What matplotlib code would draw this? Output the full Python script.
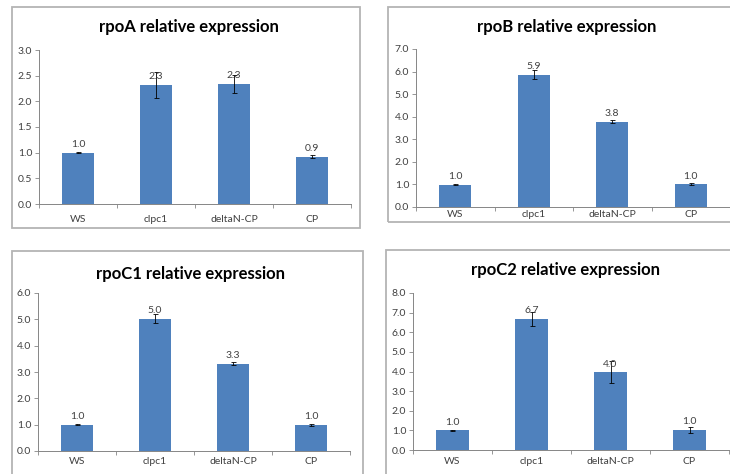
import matplotlib.pyplot as plt
from matplotlib.patches import Rectangle
from matplotlib.ticker import FormatStrFormatter, FixedLocator
import numpy as np

plt.rcParams['font.family'] = ['Lato', 'DejaVu Sans']

# tamanho da imagem em pixels (dpi 100)
W, H = 730, 474

categorias = ['WS', 'clpc1', 'deltaN-CP', 'CP']

rpoA = [1.00, 2.32, 2.34, 0.92]
rpoA_err = [0.01, 0.26, 0.17, 0.03]

rpoB = [0.98, 5.87, 3.78, 1.02]
rpoB_err = [0.02, 0.18, 0.08, 0.06]

rpoC1 = [0.99, 5.02, 3.32, 0.99]
rpoC1_err = [0.02, 0.17, 0.07, 0.03]

rpoC2 = [1.00, 6.68, 3.96, 1.03]
rpoC2_err = [0.01, 0.35, 0.55, 0.15]

AZUL = '#4F81BD'
CINZA = '#868686'
TEXTO = '#404040'


# converte um retangulo em pixels (origem no topo) para fração da figura
def px(x0, y0, x1, y1):
    return [x0 / W, 1 - y1 / H, (x1 - x0) / W, (y1 - y0) / H]


def desenhaPainel(fig, caixa, eixo, titulo, ytitulo, valores, erros, ymax, passo, padx):
    # moldura cinza em volta do gráfico
    b = px(*caixa)
    fig.patches.append(Rectangle((b[0], b[1]), b[2], b[3], transform=fig.transFigure,
                                 fill=False, edgecolor='#b4b4b4', linewidth=1.3))
    fig.text((caixa[0] + caixa[2]) / 2 / W + 0.004, 1 - ytitulo / H, titulo,
             ha='center', va='center', fontsize=12, fontweight='bold', color='black')

    ax = fig.add_axes(px(*eixo))
    x = np.arange(len(categorias))
    ax.bar(x, valores, 0.41, color=AZUL, zorder=2)
    ax.errorbar(x, valores, yerr=erros, fmt='none', ecolor='black',
                elinewidth=0.6, capsize=1.8, capthick=0.6, zorder=3)
    # rótulos com o valor de cada barra
    for i in range(len(valores)):
        ax.annotate('%.1f' % valores[i], (x[i], valores[i]), xytext=(0, 2.5),
                    textcoords='offset points', ha='center', va='bottom',
                    fontsize=7.5, color=TEXTO, zorder=4)

    ax.set_xlim(-0.5, len(categorias) - 0.5)
    ax.set_ylim(0, ymax)
    ax.set_yticks(np.arange(0, ymax + passo / 2, passo))
    ax.yaxis.set_major_formatter(FormatStrFormatter('%.1f'))
    ax.set_xticks(x)
    ax.set_xticklabels(categorias)
    ax.xaxis.set_minor_locator(FixedLocator(np.arange(-0.5, len(categorias), 1.0)))

    for lado in ['top', 'right']:
        ax.spines[lado].set_visible(False)
    for lado in ['left', 'bottom']:
        ax.spines[lado].set_color(CINZA)
        ax.spines[lado].set_linewidth(0.7)
    ax.tick_params(axis='y', colors=CINZA, labelcolor=TEXTO, labelsize=7.5,
                   length=3, width=0.6, pad=2)
    ax.tick_params(axis='x', which='major', length=0, labelsize=7.5,
                   labelcolor=TEXTO, pad=padx)
    ax.tick_params(axis='x', which='minor', length=3, width=0.6, color=CINZA)
    return ax


fig = plt.figure(figsize=(W / 100, H / 100), dpi=100)

desenhaPainel(fig, (12, 7, 360, 228), (39, 50, 351, 204),
              'rpoA relative expression', 27, rpoA, rpoA_err, 3.0, 0.5, 8)
desenhaPainel(fig, (388, 7, 740, 222), (416, 49, 730, 207),
              'rpoB relative expression', 27, rpoB, rpoB_err, 7.0, 1.0, 2.5)
desenhaPainel(fig, (12, 251, 363, 490), (38, 293, 350, 451),
              'rpoC1 relative expression', 274, rpoC1, rpoC1_err, 6.0, 1.0, 4.5)
desenhaPainel(fig, (386, 250, 740, 490), (413, 293, 729, 450),
              'rpoC2 relative expression', 270, rpoC2, rpoC2_err, 8.0, 1.0, 5)

fig.savefig('out.png', dpi=100)
